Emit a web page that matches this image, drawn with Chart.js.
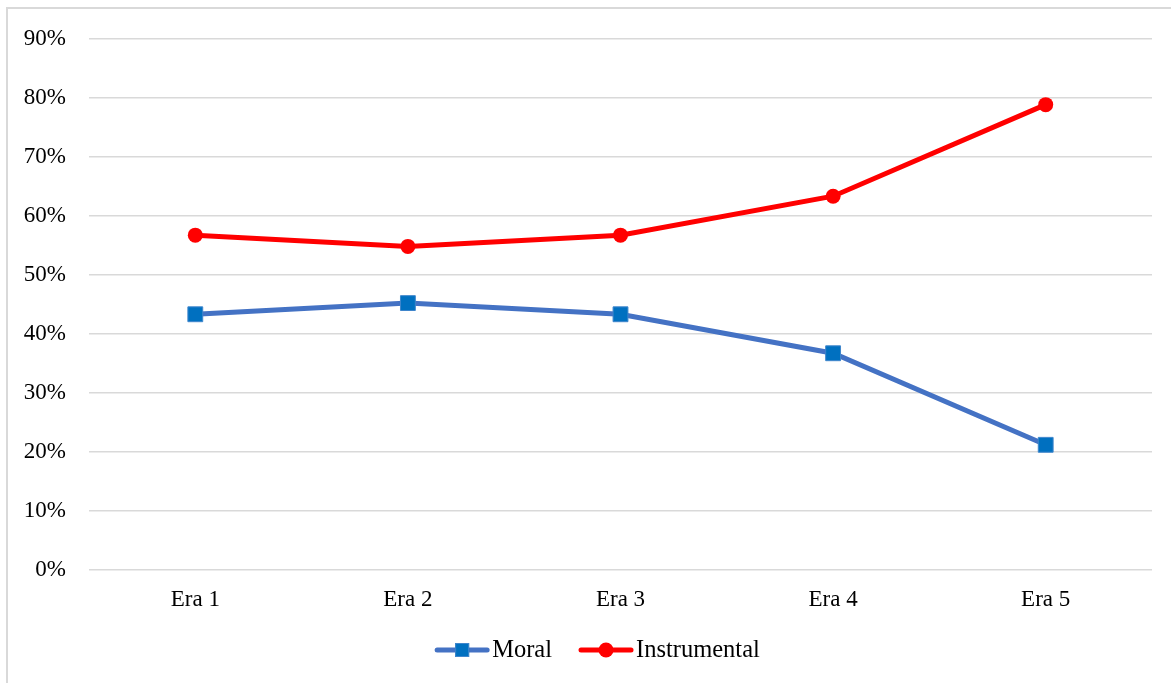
<!DOCTYPE html>
<html>
<head>
<meta charset="utf-8">
<script src="https://cdn.jsdelivr.net/npm/chart.js@4.4.1/dist/chart.umd.min.js"></script>
<style>
  html, body { margin: 0; padding: 0; background: #ffffff; }
  #wrap { position: relative; width: 1171px; height: 683px; overflow: hidden; }
  #frame { position: absolute; left: 6px; top: 7px; width: 1200px; height: 720px;
           border: 2px solid #d9d9d9; box-sizing: border-box; }
  canvas { position: absolute; left: 0; top: 0; }
</style>
</head>
<body>
<div id="wrap">
  <div id="frame"></div>
  <canvas id="chart" width="1171" height="683"></canvas>
</div>
<script>
// Share of each justification type per era (percent)
const eras = ["Era 1", "Era 2", "Era 3", "Era 4", "Era 5"];
const moral = [43.3, 45.2, 43.3, 36.7, 21.2];
const instrumental = [56.7, 54.8, 56.7, 63.3, 78.8];
const yTicks = [0, 10, 20, 30, 40, 50, 60, 70, 80, 90];

const FONT = "'Liberation Serif', 'Times New Roman', serif";
const BLUE_LINE = "#4472C4";
const BLUE_MARK = "#0070C0";
const MARK_EDGE = "#3f86cc";
const RED = "#FF0000";

// Bottom legend: each entry is a short line with the series marker, then its name
const lineLegend = {
  id: "lineLegend",
  afterDraw(chart) {
    const ctx = chart.ctx;
    const sw = 56, gapText = 2, gapItem = 26;
    const cy = 650, centerX = 597;
    ctx.save();
    ctx.font = "24.5px " + FONT;
    ctx.textBaseline = "middle";
    ctx.textAlign = "left";
    const items = chart.data.datasets.map(ds => ({ ds, w: ctx.measureText(ds.label).width }));
    const total = items.reduce((s, it) => s + sw + gapText + it.w, 0) + gapItem * (items.length - 1);
    let x = centerX - total / 2;
    items.forEach(({ ds, w }) => {
      ctx.strokeStyle = ds.borderColor;
      ctx.lineWidth = 5;
      ctx.lineCap = "round";
      ctx.beginPath(); ctx.moveTo(x + 3, cy); ctx.lineTo(x + sw - 3, cy); ctx.stroke();
      const mx = x + sw / 2;
      ctx.fillStyle = ds.pointBackgroundColor;
      if (ds.pointStyle === "rect") {
        ctx.fillRect(mx - 7, cy - 7, 14, 14);
        ctx.strokeStyle = ds.pointBorderColor; ctx.lineWidth = 1;
        ctx.strokeRect(mx - 6.5, cy - 6.5, 13, 13);
      } else {
        ctx.beginPath(); ctx.arc(mx, cy, 7.5, 0, Math.PI * 2); ctx.fill();
      }
      ctx.fillStyle = "#000000";
      ctx.fillText(ds.label, x + sw + gapText, cy + 1);
      x += sw + gapText + w + gapItem;
    });
    ctx.restore();
  }
};

new Chart(document.getElementById("chart"), {
  type: "line",
  data: {
    labels: eras,
    datasets: [
      {
        label: "Moral",
        data: moral,
        borderColor: BLUE_LINE,
        borderWidth: 5,
        pointStyle: "rect",
        pointRadius: 10.5,
        pointBackgroundColor: BLUE_MARK,
        pointBorderColor: MARK_EDGE,
        pointBorderWidth: 1,
        tension: 0
      },
      {
        label: "Instrumental",
        data: instrumental,
        borderColor: RED,
        borderWidth: 5,
        pointStyle: "circle",
        pointRadius: 7.5,
        pointBackgroundColor: RED,
        pointBorderColor: RED,
        pointBorderWidth: 0,
        tension: 0
      }
    ]
  },
  plugins: [lineLegend],
  options: {
    responsive: false,
    animation: false,
    layout: { padding: { left: 0, top: 38.5, right: 19, bottom: 0 } },
    plugins: {
      tooltip: { enabled: false },
      legend: { display: false }
    },
    scales: {
      x: {
        offset: true,
        grid: { display: false, drawTicks: false },
        border: { display: false },
        ticks: { color: "#000000", font: { family: FONT, size: 23 }, padding: 16 },
        afterFit: (s) => { s.height = 113; }
      },
      y: {
        min: 0,
        max: 90,
        afterBuildTicks: (s) => { s.ticks = yTicks.map(v => ({ value: v })); },
        grid: { color: "#d9d9d9", lineWidth: 1.5, drawTicks: false },
        border: { display: false },
        ticks: {
          color: "#000000",
          font: { family: FONT, size: 23 },
          padding: 23,
          callback: (v) => v + "%"
        },
        afterFit: (s) => { s.width = 89; }
      }
    }
  }
});
</script>
</body>
</html>
